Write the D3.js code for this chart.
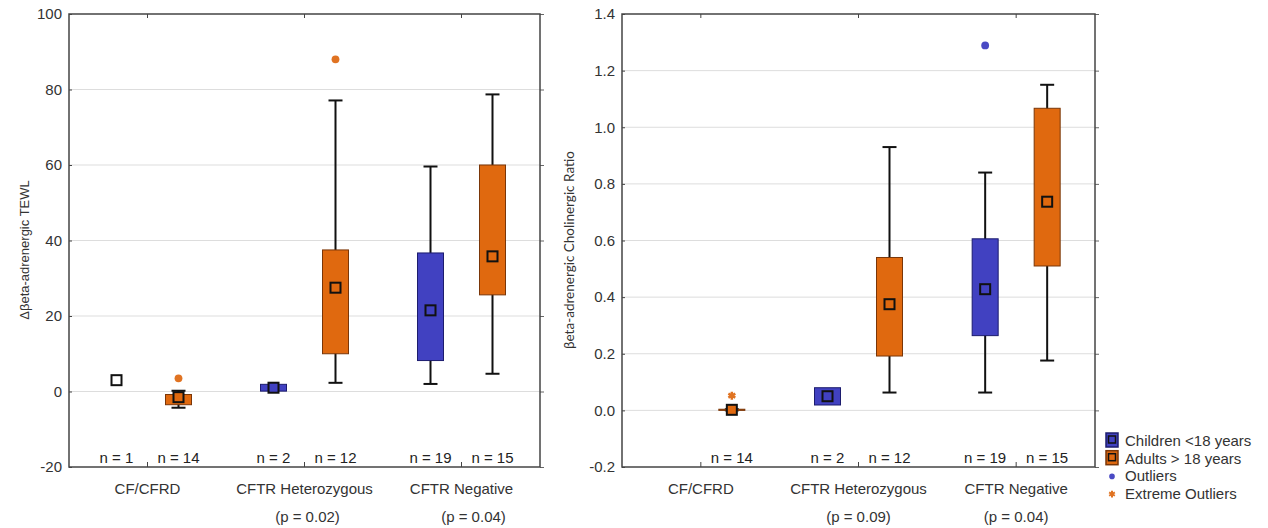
<!DOCTYPE html>
<html>
<head>
<meta charset="utf-8">
<script src="https://cdn.jsdelivr.net/npm/d3@7"></script>
<style>
body { margin: 0; background: #fff; }
svg { font-family: "Liberation Sans", Arial, sans-serif; }
</style>
</head>
<body>
<svg id="chart" width="1268" height="528"></svg>
<script>
const categories = ["CF/CFRD", "CFTR Heterozygous", "CFTR Negative"];
const groups = ["Children <18 years", "Adults > 18 years"];

// left panel: delta beta-adrenergic TEWL
const tewlTicks = [-20, 0, 20, 40, 60, 80, 100];
const tewlN = [[1, 14], [2, 12], [19, 15]];
const tewlP = ["", "(p = 0.02)", "(p = 0.04)"];
const tewlChildMean = [3, 1, 21.5];
const tewlChildQ1 = [null, 0.1, 8.2];
const tewlChildQ3 = [null, 1.9, 36.7];
const tewlChildLow = [null, null, 2];
const tewlChildHigh = [null, null, 59.6];
const tewlAdultMean = [-1.5, 27.5, 35.8];
const tewlAdultQ1 = [-3.5, 10, 25.6];
const tewlAdultQ3 = [-0.8, 37.5, 60];
const tewlAdultLow = [-4.3, 2.3, 4.7];
const tewlAdultHigh = [0.2, 77.1, 78.7];
const tewlOutCat = [0, 1];
const tewlOutGroup = [1, 1];
const tewlOutValue = [3.5, 88];
const tewlOutExtreme = [false, false];

// right panel: beta-adrenergic / cholinergic ratio
const ratioTicks = [-0.2, 0, 0.2, 0.4, 0.6, 0.8, 1.0, 1.2, 1.4];
const ratioN = [[null, 14], [2, 12], [19, 15]];
const ratioP = ["", "(p = 0.09)", "(p = 0.04)"];
const ratioChildMean = [null, 0.05, 0.428];
const ratioChildQ1 = [null, 0.019, 0.264];
const ratioChildQ3 = [null, 0.08, 0.606];
const ratioChildLow = [null, null, 0.063];
const ratioChildHigh = [null, null, 0.84];
const ratioAdultMean = [0.002, 0.375, 0.737];
const ratioAdultQ1 = [0, 0.192, 0.51];
const ratioAdultQ3 = [0.004, 0.54, 1.067];
const ratioAdultLow = [0, 0.063, 0.176];
const ratioAdultHigh = [0.004, 0.93, 1.15];
const ratioOutCat = [0, 2];
const ratioOutGroup = [1, 0];
const ratioOutValue = [0.052, 1.289];
const ratioOutExtreme = [true, false];

const boxFill = ["#4141c1", "#e0690f"];
const boxStroke = ["#1c1c6e", "#7a3608"];
const dotFill = ["#4a4ac4", "#e07322"];
const boxWidth = 26;
const capWidth = 14;

const svg = d3.select("#chart");

const drawPanel = (p) =>
{
    const g = svg.append("g");
    const x = d3.scaleBand().domain(categories.map((c, i) => i)).range([p.x0, p.x1]).padding(0);
    const off = d3.scalePoint().domain([0, 1]).range([-31, 31]);
    const y = d3.scaleLinear().domain(p.domain).range([467, 14]);
    const cx = (c, k) => x(c) + x.bandwidth() / 2 + off(k);

    // grid
    g.append("g").selectAll("line")
        .data(p.ticks.slice(1, -1))
        .enter().append("line")
        .attr("x1", p.x0).attr("x2", p.x1)
        .attr("y1", d => y(d)).attr("y2", d => y(d))
        .attr("stroke", "#dddddd").attr("stroke-width", 1);

    // left axis with inward ticks
    const yAxis = g.append("g")
        .attr("transform", `translate(${p.x0},0)`)
        .call(d3.axisLeft(y).tickValues(p.ticks).tickFormat(d => p.fmt(d).replace("−", "-")).tickSize(-3).tickPadding(7));
    yAxis.select(".domain").remove();
    yAxis.selectAll(".tick line").attr("stroke", "#444");
    yAxis.selectAll("text").attr("font-size", 15).attr("fill", "#333").attr("font-family", "Liberation Sans, Arial");

    // right axis with outward ticks
    const yAxisR = g.append("g")
        .attr("transform", `translate(${p.x1},0)`)
        .call(d3.axisRight(y).tickValues(p.ticks).tickFormat("").tickSize(4));
    yAxisR.select(".domain").remove();
    yAxisR.selectAll(".tick line").attr("stroke", "#666");

    // frame
    g.append("rect")
        .attr("x", p.x0).attr("y", 14)
        .attr("width", p.x1 - p.x0).attr("height", 453)
        .attr("fill", "none").attr("stroke", "#444").attr("stroke-width", 1.5);

    // category ticks top/bottom
    const catTicks = g.append("g").selectAll("g").data(categories).enter().append("g");
    catTicks.append("line")
        .attr("x1", (d, i) => x(i) + x.bandwidth() / 2).attr("x2", (d, i) => x(i) + x.bandwidth() / 2)
        .attr("y1", 14).attr("y2", 18).attr("stroke", "#444");
    catTicks.append("line")
        .attr("x1", (d, i) => x(i) + x.bandwidth() / 2).attr("x2", (d, i) => x(i) + x.bandwidth() / 2)
        .attr("y1", 467).attr("y2", 462).attr("stroke", "#444");
    catTicks.append("text")
        .text(d => d)
        .attr("x", (d, i) => x(i) + x.bandwidth() / 2)
        .attr("y", 494).attr("text-anchor", "middle")
        .attr("font-size", 15).attr("fill", "#333");
    catTicks.append("text")
        .text((d, i) => p.pvals[i])
        .attr("x", (d, i) => x(i) + x.bandwidth() / 2 + p.pShift[i])
        .attr("y", 522).attr("text-anchor", "middle")
        .attr("font-size", 15).attr("fill", "#333");

    // y title
    g.append("text")
        .text(p.title)
        .attr("transform", `translate(${p.titleX},250) rotate(-90)`)
        .attr("text-anchor", "middle")
        .attr("font-size", p.titleSize)
        .attr("font-family", p.titleFont)
        .attr("fill", "#333");

    // build box rows
    const rows = [];
    categories.forEach((c, i) =>
    {
        [0, 1].forEach(k =>
        {
            const s = p.series[k];
            rows.push({cat: i, grp: k, n: p.n[i][k], mean: s.mean[i], q1: s.q1[i], q3: s.q3[i], lo: s.lo[i], hi: s.hi[i]});
        });
    });

    // n labels
    g.append("g").selectAll("text")
        .data(rows.filter(d => d.n != null))
        .enter().append("text")
        .text(d => `n = ${d.n}`)
        .attr("x", d => cx(d.cat, d.grp))
        .attr("y", 463).attr("text-anchor", "middle")
        .attr("font-size", 15).attr("fill", "#222");

    const boxes = g.append("g").selectAll("g")
        .data(rows.filter(d => d.mean != null))
        .enter().append("g");

    const withWhisk = boxes.filter(d => d.lo != null);
    withWhisk.append("line")
        .attr("x1", d => cx(d.cat, d.grp)).attr("x2", d => cx(d.cat, d.grp))
        .attr("y1", d => y(d.lo)).attr("y2", d => y(d.hi))
        .attr("stroke", "#111").attr("stroke-width", 2);
    withWhisk.append("line")
        .attr("x1", d => cx(d.cat, d.grp) - capWidth / 2).attr("x2", d => cx(d.cat, d.grp) + capWidth / 2)
        .attr("y1", d => y(d.lo)).attr("y2", d => y(d.lo))
        .attr("stroke", "#111").attr("stroke-width", 2);
    withWhisk.append("line")
        .attr("x1", d => cx(d.cat, d.grp) - capWidth / 2).attr("x2", d => cx(d.cat, d.grp) + capWidth / 2)
        .attr("y1", d => y(d.hi)).attr("y2", d => y(d.hi))
        .attr("stroke", "#111").attr("stroke-width", 2);

    boxes.filter(d => d.q1 != null).append("rect")
        .attr("x", d => cx(d.cat, d.grp) - boxWidth / 2)
        .attr("y", d => y(d.q3))
        .attr("width", boxWidth)
        .attr("height", d => Math.max(1, y(d.q1) - y(d.q3)))
        .attr("fill", d => boxFill[d.grp])
        .attr("stroke", d => boxStroke[d.grp])
        .attr("stroke-width", 1);

    boxes.append("rect")
        .attr("x", d => cx(d.cat, d.grp) - 5)
        .attr("y", d => y(d.mean) - 5)
        .attr("width", 10).attr("height", 10)
        .attr("fill", d => d.q1 == null ? "#fff" : boxFill[d.grp])
        .attr("stroke", "#111").attr("stroke-width", 2);

    // outliers
    const outs = p.outCat.map((c, i) => ({cat: c, grp: p.outGroup[i], value: p.outValue[i], extreme: p.outExtreme[i]}));
    g.append("g").selectAll("path")
        .data(outs).enter().append("path")
        .attr("transform", d => `translate(${cx(d.cat, d.grp)},${y(d.value)})`)
        .attr("d", d => d3.symbol().type(d.extreme ? d3.symbolAsterisk : d3.symbolCircle).size(d.extreme ? 45 : 48)())
        .attr("fill", d => dotFill[d.grp])
        .attr("stroke", d => d.extreme ? dotFill[d.grp] : "none")
        .attr("stroke-width", d => d.extreme ? 2.5 : 0);
}

drawPanel({
    x0: 69, x1: 540, domain: [-20, 100], ticks: tewlTicks, fmt: d3.format("d"),
    n: tewlN, pvals: tewlP, pShift: [0, 3, 12],
    title: "Δβeta-adrenergic TEWL", titleX: 29, titleSize: 13, titleFont: "Liberation Sans, Arial",
    series: [
        {mean: tewlChildMean, q1: tewlChildQ1, q3: tewlChildQ3, lo: tewlChildLow, hi: tewlChildHigh},
        {mean: tewlAdultMean, q1: tewlAdultQ1, q3: tewlAdultQ3, lo: tewlAdultLow, hi: tewlAdultHigh}
    ],
    outCat: tewlOutCat, outGroup: tewlOutGroup, outValue: tewlOutValue, outExtreme: tewlOutExtreme
});

drawPanel({
    x0: 622, x1: 1095, domain: [-0.2, 1.4], ticks: ratioTicks, fmt: d3.format(".1f"),
    n: ratioN, pvals: ratioP, pShift: [0, 0, 0],
    title: "βeta-adrenergic Cholinergic Ratio", titleX: 574, titleSize: 13.5, titleFont: "Lato, Open Sans, sans-serif",
    series: [
        {mean: ratioChildMean, q1: ratioChildQ1, q3: ratioChildQ3, lo: ratioChildLow, hi: ratioChildHigh},
        {mean: ratioAdultMean, q1: ratioAdultQ1, q3: ratioAdultQ3, lo: ratioAdultLow, hi: ratioAdultHigh}
    ],
    outCat: ratioOutCat, outGroup: ratioOutGroup, outValue: ratioOutValue, outExtreme: ratioOutExtreme
});

// legend
const legend = svg.append("g").attr("transform", "translate(1106,432)");
const legendItems = [
    {label: groups[0], kind: "box", grp: 0},
    {label: groups[1], kind: "box", grp: 1},
    {label: "Outliers", kind: "dot", grp: 0},
    {label: "Extreme Outliers", kind: "star", grp: 1}
];
const li = legend.selectAll("g").data(legendItems).enter().append("g")
    .attr("transform", (d, i) => `translate(0,${i * 17.7})`);
li.filter(d => d.kind == "box").append("rect")
    .attr("x", 0).attr("y", 1).attr("width", 12).attr("height", 14)
    .attr("fill", d => boxFill[d.grp]).attr("stroke", d => boxStroke[d.grp]).attr("stroke-width", 1.5);
li.filter(d => d.kind == "box").append("rect")
    .attr("x", 2.5).attr("y", 4).attr("width", 7).attr("height", 7)
    .attr("fill", "none").attr("stroke", "#111").attr("stroke-width", 1.5);
li.filter(d => d.kind != "box").append("path")
    .attr("transform", "translate(6,9)")
    .attr("d", d => d3.symbol().type(d.kind == "star" ? d3.symbolAsterisk : d3.symbolCircle).size(d.kind == "star" ? 30 : 25)())
    .attr("fill", d => dotFill[d.grp])
    .attr("stroke", d => d.kind == "star" ? dotFill[d.grp] : "none")
    .attr("stroke-width", 2);
li.append("text")
    .text(d => d.label)
    .attr("x", 19).attr("y", 14)
    .attr("font-size", 15).attr("fill", "#333");
</script>
</body>
</html>
